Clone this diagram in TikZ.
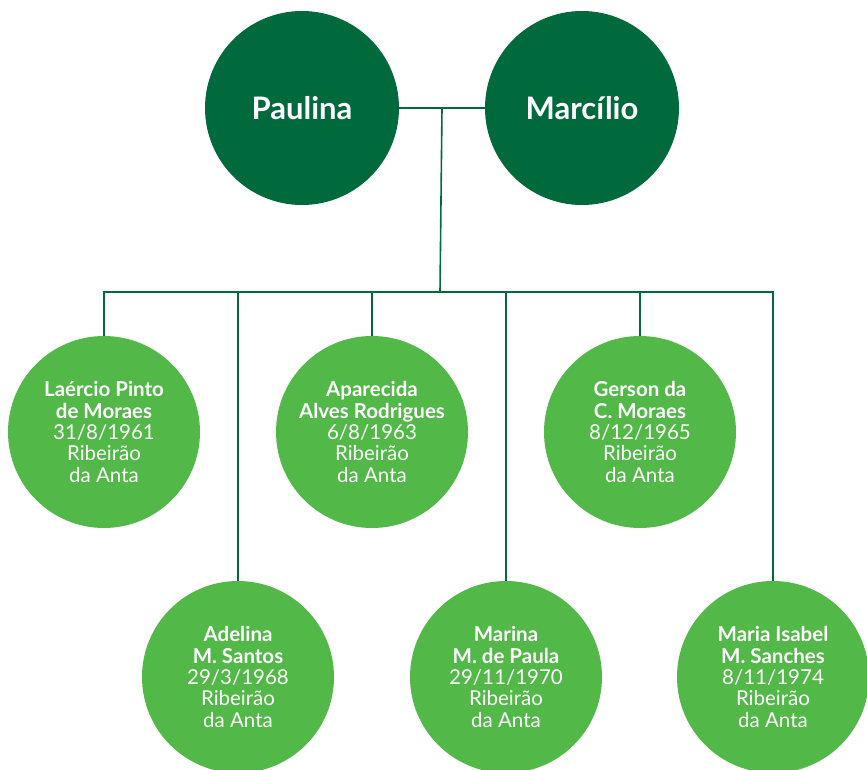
\documentclass[tikz,border=0pt]{standalone}
\usepackage{fontspec}
\setmainfont{Lato}
\usetikzlibrary{calc}
\definecolor{darkgreen}{HTML}{006A3D}
\definecolor{lightgreen}{HTML}{52B848}

\begin{document}
\begin{tikzpicture}[x=1pt, y=-1pt,
  link/.style={draw=darkgreen, line width=1.6pt},
  parent/.style={circle, fill=darkgreen, minimum size=194pt, inner sep=0pt,
    text=white, font=\fontsize{31}{35}\selectfont\bfseries},
  child/.style={circle, fill=lightgreen, minimum size=192pt, inner sep=0pt,
    text=white, align=center, font=\fontsize{20.5}{21.3}\selectfont}]
  \useasboundingbox (0,0) rectangle (867,770);
  \node[parent] (P) at (302,108) {Paulina};
  \node[parent] (M) at (582,108) {Marcílio};
  \coordinate (H) at ($(P.east)!0.5!(M.west)$);
  \coordinate (B) at (440,292);
  \node[child] (C1) at (104,432) {\textbf{Laércio Pinto}\\ \textbf{de Moraes}\\ 31/8/1961\\ Ribeirão\\ da Anta};
  \node[child] (C2) at (238,677) {\textbf{Adelina}\\ \textbf{M. Santos}\\ 29/3/1968\\ Ribeirão\\ da Anta};
  \node[child] (C3) at (372,432) {\textbf{Aparecida}\\ \textbf{Alves Rodrigues}\\ 6/8/1963\\ Ribeirão\\ da Anta};
  \node[child] (C4) at (506,677) {\textbf{Marina}\\ \textbf{M. de Paula}\\ 29/11/1970\\ Ribeirão\\ da Anta};
  \node[child] (C5) at (640,432) {\textbf{Gerson da}\\ \textbf{C. Moraes}\\ 8/12/1965\\ Ribeirão\\ da Anta};
  \node[child] (C6) at (773,677) {\textbf{Maria Isabel}\\ \textbf{M. Sanches}\\ 8/11/1974\\ Ribeirão\\ da Anta};
  \draw[link] (P) -- (M);
  \draw[link] (H) -- (B);
  \foreach \c in {C1,C2,C3,C4,C5,C6}
    \draw[link] (B) -| (\c.north);
\end{tikzpicture}
\end{document}
